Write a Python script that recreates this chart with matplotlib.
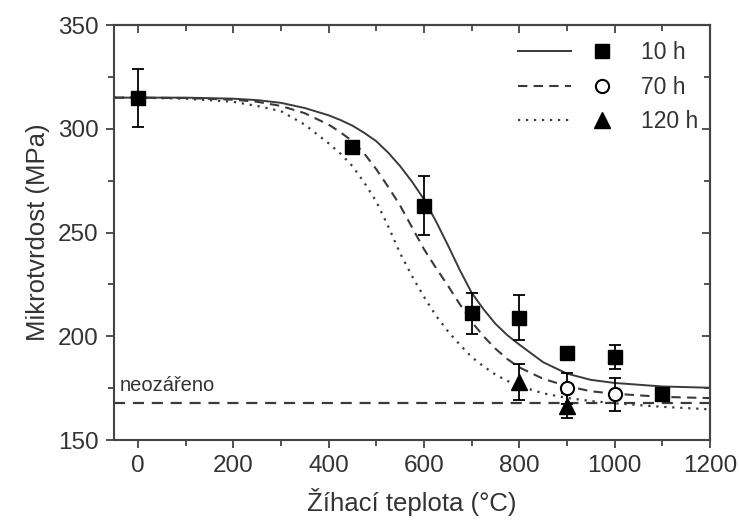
import numpy as np
import matplotlib
matplotlib.use("Agg")
import matplotlib.pyplot as plt
from matplotlib.ticker import MultipleLocator
from matplotlib.legend_handler import HandlerTuple

plt.rcParams['font.family'] = ['Liberation Sans', 'DejaVu Sans']

# measured points
x_10h = [0, 450, 600, 700, 800, 900, 1000, 1100]
y_10h = [315, 291, 263, 211, 209, 192, 190, 172]
err_10h = [14, 0, 14, 10, 11, 2, 6, 2]

x_70h = [900, 1000]
y_70h = [175, 172]
err_70h = [7.5, 8]

x_120h = [800, 900]
y_120h = [178, 166.5]
err_120h = [8.5, 6]

# fitted curves
x_fit = [-50, 0, 100, 200, 250, 300, 350, 400, 425, 450, 475, 500, 525, 550,
         575, 600, 625, 650, 675, 700, 725, 750, 775, 800, 850, 900, 950,
         1000, 1100, 1200]
fit_10h = [315, 315, 315, 314.5, 313.8, 312.5, 310, 306.5, 304.2, 301.5, 298,
           294, 288.5, 282, 274.5, 266, 255.5, 244, 232, 221, 213, 206, 200.5,
           196, 187.5, 182, 179, 177.5, 175.8, 175.2]
fit_70h = [315, 315, 314.8, 314, 313, 311, 307.5, 302, 298.3, 294, 288, 280.5,
           272, 263, 252.5, 242, 233, 224.5, 215.5, 207, 200, 194, 189, 185,
           179.5, 176, 173.5, 172.3, 170.8, 170.2]
fit_120h = [315, 315, 314.5, 313, 311, 308.5, 302, 293, 288, 282, 274, 265,
            253, 240, 229, 219, 210, 202.5, 196, 190, 185.5, 181.5, 178.5, 176,
            172.5, 170.3, 168.8, 167.7, 166, 164.8]

unirradiated = 167.8

line_c = "#3a3a3a"
text_c = "#333333"

fig = plt.figure(figsize=(7.39, 5.20), dpi=100)
ax = fig.add_axes([0.1543, 0.1538, 0.8065, 0.7981])

ax.axhline(unirradiated, color=line_c, lw=1.6, ls=(0, (5, 3.5)))
ax.text(-38, 171.5, "neozářeno", fontsize=14.5, color=text_c, va="bottom")

l1, = ax.plot(x_fit, fit_10h, color=line_c, lw=1.4, ls="-")
l2, = ax.plot(x_fit, fit_70h, color=line_c, lw=1.5, ls=(0, (4.5, 3)))
l3, = ax.plot(x_fit, fit_120h, color=line_c, lw=1.6, ls=(0, (1, 2.6)))

eb = dict(fmt="none", ecolor="black", elinewidth=1.3, capsize=4, capthick=1.3)
ax.errorbar(x_120h, y_120h, yerr=err_120h, **eb)
ax.errorbar(x_70h, y_70h, yerr=err_70h, **eb)
ax.errorbar(x_10h, y_10h, yerr=err_10h, **eb)
m3, = ax.plot(x_120h, y_120h, "^", color="black", ms=11, ls="none")
m2, = ax.plot(x_70h, y_70h, "o", mfc="white", mec="black", mew=1.5, ms=9.5, ls="none")
m1, = ax.plot(x_10h, y_10h, "s", color="black", ms=9.5, ls="none")

ax.set_xlim(-50, 1200)
ax.set_ylim(150, 350)
ax.xaxis.set_major_locator(MultipleLocator(200))
ax.xaxis.set_minor_locator(MultipleLocator(100))
ax.yaxis.set_major_locator(MultipleLocator(50))
ax.yaxis.set_minor_locator(MultipleLocator(25))
ax.tick_params(which="both", direction="out", colors="#444444", width=1.3,
               labelsize=17.5, labelcolor=text_c)
ax.tick_params(which="major", length=6, pad=5)
ax.tick_params(which="minor", length=4)
for s in ax.spines.values():
    s.set_color("#444444")
    s.set_linewidth(1.5)

top = ax.secondary_xaxis("top")
top.xaxis.set_major_locator(MultipleLocator(200))
top.xaxis.set_minor_locator(MultipleLocator(100))
top.tick_params(which="both", direction="in", colors="#444444", width=1.3, labeltop=False)
top.tick_params(which="major", length=6)
top.tick_params(which="minor", length=4)
right = ax.secondary_yaxis("right")
right.yaxis.set_major_locator(MultipleLocator(50))
right.yaxis.set_minor_locator(MultipleLocator(25))
right.tick_params(which="both", direction="in", colors="#444444", width=1.3, labelright=False)
right.tick_params(which="major", length=6)
right.tick_params(which="minor", length=4)
for sa in (top, right):
    for s in sa.spines.values():
        s.set_color("#444444")
        s.set_linewidth(1.5)

ax.set_xlabel("Žíhací teplota (°C)", fontsize=18.5, color=text_c, labelpad=8)
ax.set_ylabel("Mikrotvrdost (MPa)", fontsize=18.5, color=text_c, labelpad=6)

ax.legend([(l1, m1), (l2, m2), (l3, m3)], ["10 h", "70 h", "120 h"],
          handler_map={tuple: HandlerTuple(ndivide=None, pad=0.25)},
          handlelength=4.8, fontsize=16.5, frameon=False, loc="upper right",
          bbox_to_anchor=(1.015, 1.01), labelspacing=0.5, handletextpad=0.55,
          labelcolor=text_c)

fig.savefig("out.png", dpi=100)
